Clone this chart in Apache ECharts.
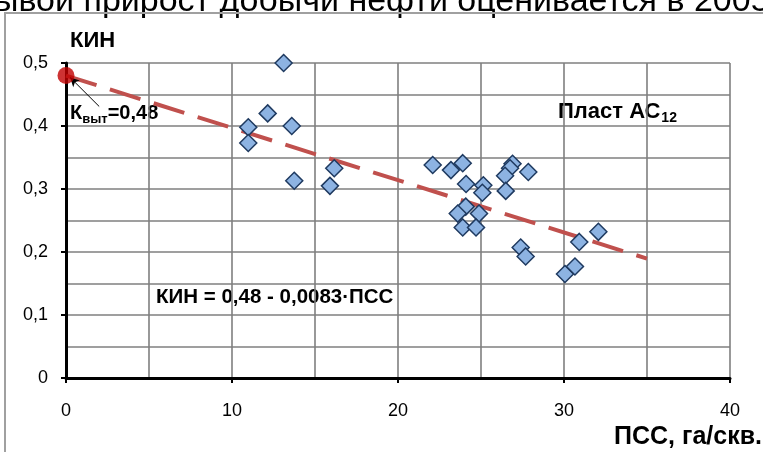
<!DOCTYPE html>
<html><head><meta charset="utf-8">
<script src="https://cdn.jsdelivr.net/npm/echarts@6/dist/echarts.min.js"></script>
<style>html,body{margin:0;padding:0;background:#fff}#c{width:763px;height:452px}</style>
</head><body><div id="c"></div>
<script>
// ---- data ----
const pssX = [10.98, 10.98, 12.15, 13.11, 13.6, 13.75, 15.9, 16.16,
  22.09, 23.19, 23.9, 24.1, 25.14, 25.08, 24.08, 23.6, 24.88, 23.9, 24.7,
  26.9, 26.75, 26.45, 26.49, 27.85, 27.39, 27.69, 30.06, 30.66, 30.92, 32.07];
const kinY = [0.398, 0.373, 0.42, 0.50, 0.40, 0.313, 0.305, 0.333,
  0.338, 0.33, 0.341, 0.308, 0.306, 0.294, 0.272, 0.261, 0.261, 0.239, 0.239,
  0.34, 0.333, 0.321, 0.297, 0.327, 0.207, 0.193, 0.165, 0.177, 0.216, 0.232];
const trendX = [0, 35];
const trendY = [0.48, 0.1895];
const kvytX = [0];
const kvytY = [0.48];
const arrowFrom = [2.0, 0.431];
const arrowTo = [0.25, 0.477];
const xLabels = [0, 10, 20, 30, 40];
const yLabels = ['0', '0,1', '0,2', '0,3', '0,4', '0,5'];

const FONT = 'Liberation Sans, Arial, sans-serif';
const ctx2 = document.createElement('canvas').getContext('2d');
function tw(t, size, weight) { ctx2.font = (weight || 'normal') + ' ' + size + 'px ' + FONT; return ctx2.measureText(t).width; }

const chart = echarts.init(document.getElementById('c'), null, {renderer: 'canvas'});

const gridColor = '#7F7F7F';

// Квыт label pieces
const kx = 70, ky = 113;
const kSize = 20, subSize = 13;
const w1 = tw('К', kSize, 'bold');
const w2 = tw('выт', subSize, 'bold');
// Пласт AC12
const px = 558, py = 112, pSize = 22;
const pw = tw('Пласт АС', pSize, 'bold');

const option = {
  backgroundColor: '#fff',
  animation: false,
  grid: {left: 66, right: 33, top: 63, bottom: 74, outerBoundsMode: 'none'},
  xAxis: {
    type: 'value', min: 0, max: 40, interval: 10,
    axisLine: {show: true, onZero: false, lineStyle: {color: '#000', width: 3}},
    axisTick: {show: true, inside: false, length: 5, lineStyle: {color: '#000', width: 2}},
    axisLabel: {show: true, margin: 24, fontSize: 18, color: '#000', fontFamily: FONT,
      formatter: v => (xLabels.indexOf(v) >= 0 ? String(v) : '')},
    splitLine: {show: true, lineStyle: {color: gridColor, width: 1.6}},
    minorTick: {show: false, splitNumber: 2},
    minorSplitLine: {show: true, lineStyle: {color: gridColor, width: 1.6}}
  },
  yAxis: {
    type: 'value', min: 0, max: 0.5, interval: 0.1,
    axisLine: {show: true, onZero: false, lineStyle: {color: '#000', width: 3}},
    axisTick: {show: true, inside: false, length: 5, lineStyle: {color: '#000', width: 2}},
    axisLabel: {show: true, margin: 18, fontSize: 18, color: '#000', fontFamily: FONT,
      formatter: v => yLabels[Math.round(v * 10)] || ''},
    splitLine: {show: true, lineStyle: {color: gridColor, width: 1.6}},
    minorTick: {show: false, splitNumber: 2},
    minorSplitLine: {show: true, lineStyle: {color: gridColor, width: 1.6}}
  },
  series: [
    {
      type: 'line', z: 3,
      data: trendX.map((x, i) => [x, trendY[i]]),
      symbol: 'none',
      lineStyle: {color: '#C0504D', width: 4, type: [32, 14], cap: 'butt'}
    },
    {
      type: 'scatter', z: 4,
      data: pssX.map((x, i) => [x, kinY[i]]),
      symbol: 'diamond', symbolSize: [17, 17],
      itemStyle: {color: '#8DB3E2', borderColor: '#1F3A60', borderWidth: 1.5, opacity: 1}
    },
    {
      type: 'scatter', z: 5,
      data: kvytX.map((x, i) => [x, kvytY[i]]),
      symbol: 'circle', symbolSize: 17,
      itemStyle: {color: '#C00000'},
      markLine: {
        silent: true, animation: false,
        symbol: ['none', 'arrow'], symbolSize: [7, 9],
        label: {show: false},
        lineStyle: {color: '#000', width: 1, type: 'solid'},
        data: [[{coord: arrowFrom}, {coord: arrowTo}]]
      }
    }
  ],
  graphic: [
    {type: 'text', x: -6, y: 19, silent: true,
      style: {text: 'ывой прирост добычи нефти оценивается в 2005', fontSize: 34, fontFamily: FONT, fill: '#000',
        textAlign: 'left', textVerticalAlign: 'bottom'}},
    {type: 'rect', silent: true, shape: {x: 0, y: 14, width: 763, height: 438}, style: {fill: '#fff'}, z: -1},
    {type: 'polyline', silent: true, shape: {points: [[5, 452], [5, 13], [763, 13]]},
      style: {stroke: '#A0A0A0', lineWidth: 2, fill: null}},
    {type: 'text', x: 70, y: 41, silent: true,
      style: {text: 'КИН', fontSize: 22, fontWeight: 'bold', fontFamily: FONT, fill: '#000', textAlign: 'left', textVerticalAlign: 'middle'}},
    {type: 'text', x: kx, y: ky, silent: true,
      style: {text: 'К', fontSize: kSize, fontWeight: 'bold', fontFamily: FONT, fill: '#000', textAlign: 'left', textVerticalAlign: 'middle'}},
    {type: 'text', x: kx + w1, y: ky + 6, silent: true,
      style: {text: 'выт', fontSize: subSize, fontWeight: 'bold', fontFamily: FONT, fill: '#000', textAlign: 'left', textVerticalAlign: 'middle'}},
    {type: 'text', x: kx + w1 + w2, y: ky, silent: true,
      style: {text: '=0,48', fontSize: kSize, fontWeight: 'bold', fontFamily: FONT, fill: '#000', textAlign: 'left', textVerticalAlign: 'middle'}},
    {type: 'text', x: px, y: py, silent: true,
      style: {text: 'Пласт АС', fontSize: pSize, fontWeight: 'bold', fontFamily: FONT, fill: '#000', textAlign: 'left', textVerticalAlign: 'middle'}},
    {type: 'text', x: px + pw + 1, y: py + 6, silent: true,
      style: {text: '12', fontSize: 14, fontWeight: 'bold', fontFamily: FONT, fill: '#000', textAlign: 'left', textVerticalAlign: 'middle'}},
    {type: 'text', x: 156, y: 297, silent: true,
      style: {text: 'КИН = 0,48 - 0,0083·ПСС', fontSize: 20.5, fontWeight: 'bold', fontFamily: FONT, fill: '#000', textAlign: 'left', textVerticalAlign: 'middle'}},
    {type: 'text', x: 762, y: 437, silent: true,
      style: {text: 'ПСС, га/скв.', fontSize: 25, fontWeight: 'bold', fontFamily: FONT, fill: '#000', textAlign: 'right', textVerticalAlign: 'middle'}}
  ]
};
chart.setOption(option);
</script>
</body></html>
